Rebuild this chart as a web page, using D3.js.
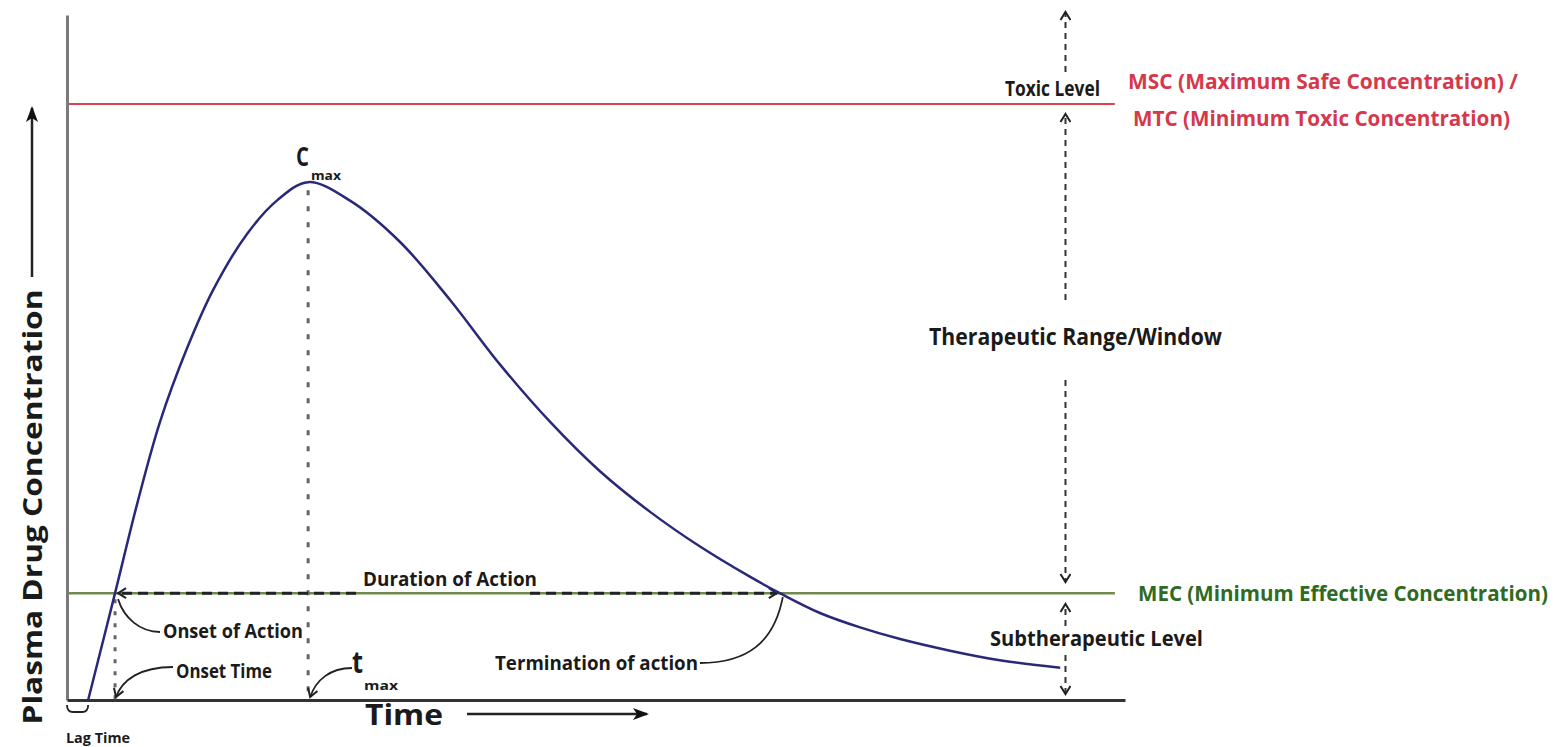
<!DOCTYPE html>
<html>
<head>
<meta charset="utf-8">
<script src="https://cdn.jsdelivr.net/npm/d3@7"></script>
<style>
  body { margin: 0; background: #fff; }
  svg text { font-family: "Open Sans", "Liberation Sans", sans-serif; font-weight: 700; }
</style>
</head>
<body>
<div id="chart"></div>
<script>
// plasma concentration vs time (time in h, concentration in arbitrary units)
const timeHours = [0.48, 1.09, 1.59, 2.11, 2.72, 3.31, 4.08, 4.76, 5.47, 6.42, 7.55, 8.69, 9.82,
  10.96, 12.09, 13.22, 14.36, 15.49, 16.17, 17.08, 17.99, 18.9, 20.03, 21.16, 22.53];
const concentration = [0, 15.6, 28.6, 40.6, 51.3, 59.8, 68.0, 72.9, 75.6, 72.9, 66.9, 58.4, 49.0,
  40.6, 33.4, 27.5, 22.4, 18.0, 15.6, 12.7, 10.6, 8.9, 7.2, 5.8, 4.7];

// reference levels
const mscLevel = 87;   // MSC / MTC
const mecLevel = 15.6; // MEC

// key time points
const lagTime = 0.48;
const onsetTime = 1.09;
const tMax = 5.47;
const cMax = 75.6;
const terminationTime = 16.17;
const windowTime = 22.65;

const W = 1563, H = 747;
const svg = d3.select("#chart").append("svg")
  .attr("width", W)
  .attr("height", H);

const x = d3.scaleLinear().domain([0, 24]).range([67, 1125]);
const y = d3.scaleLinear().domain([0, 100]).range([700, 15]);

// markers
const defs = svg.append("defs");
defs.append("marker")
  .attr("id", "chev")
  .attr("viewBox", "-1 -6 12 12")
  .attr("refX", 9).attr("refY", 0)
  .attr("markerWidth", 12).attr("markerHeight", 12)
  .attr("markerUnits", "userSpaceOnUse")
  .attr("orient", "auto-start-reverse")
  .append("path")
  .attr("d", "M1,-5 L9,0 L1,5")
  .attr("fill", "none")
  .attr("stroke", "#222")
  .attr("stroke-width", 2);

defs.append("marker")
  .attr("id", "tri")
  .attr("viewBox", "0 -7 16 14")
  .attr("refX", 14).attr("refY", 0)
  .attr("markerWidth", 16).attr("markerHeight", 14)
  .attr("markerUnits", "userSpaceOnUse")
  .attr("orient", "auto")
  .append("path")
  .attr("d", "M0,-6 L16,0 L0,6 L4,0 Z")
  .attr("fill", "#111");

// level lines
svg.append("line")
  .attr("x1", x(0)).attr("x2", x(23.77))
  .attr("y1", y(mscLevel)).attr("y2", y(mscLevel))
  .attr("stroke", "#d9444e").attr("stroke-width", 2);

svg.append("line")
  .attr("x1", x(0)).attr("x2", x(23.77))
  .attr("y1", y(mecLevel)).attr("y2", y(mecLevel))
  .attr("stroke", "#6e8a4c").attr("stroke-width", 2.5);

// axes (no ticks, just the lines)
const yAxis = svg.append("g")
  .attr("transform", `translate(${x(0)},0)`)
  .call(d3.axisLeft(y).ticks(0).tickSize(0));
yAxis.select(".domain").attr("stroke", "#7a7a7a").attr("stroke-width", 3);

const xAxis = svg.append("g")
  .attr("transform", `translate(0,${y(0)})`)
  .call(d3.axisBottom(x).ticks(0).tickSize(0));
xAxis.select(".domain").attr("stroke", "#333").attr("stroke-width", 3);

// dotted drop lines at onset and tmax
svg.append("line")
  .attr("x1", x(onsetTime)).attr("x2", x(onsetTime))
  .attr("y1", y(mecLevel) + 6).attr("y2", y(0))
  .attr("stroke", "#666").attr("stroke-width", 3)
  .attr("stroke-dasharray", "4,8");

svg.append("line")
  .attr("x1", x(tMax)).attr("x2", x(tMax))
  .attr("y1", y(cMax) + 8).attr("y2", y(0))
  .attr("stroke", "#666").attr("stroke-width", 3)
  .attr("stroke-dasharray", "5,11");

// duration of action dashed arrow (broken around the label)
svg.append("line")
  .attr("x1", 356).attr("x2", x(onsetTime) + 3)
  .attr("y1", y(mecLevel)).attr("y2", y(mecLevel))
  .attr("stroke", "#222").attr("stroke-width", 3)
  .attr("stroke-dasharray", "10,6")
  .attr("marker-end", "url(#chev)");

svg.append("line")
  .attr("x1", 530).attr("x2", x(terminationTime) - 3)
  .attr("y1", y(mecLevel)).attr("y2", y(mecLevel))
  .attr("stroke", "#222").attr("stroke-width", 3)
  .attr("stroke-dasharray", "10,6")
  .attr("marker-end", "url(#chev)");

// concentration curve
const curveData = timeHours.map((t, i) => ({t, c: concentration[i]}));
const line = d3.line()
  .x(d => x(d.t))
  .y(d => y(d.c))
  .curve(d3.curveCatmullRom.alpha(0.5));

svg.append("path")
  .datum(curveData)
  .attr("fill", "none")
  .attr("stroke", "#2a2878")
  .attr("stroke-width", 2.5)
  .attr("d", line);

// right side dashed range arrows
const wx = x(windowTime);
const rangeArrows = [[72, 12], [300, 114], [380, 582], [626, 604], [655, 694]];
rangeArrows.forEach(([a, b]) => {
  svg.append("line")
    .attr("x1", wx).attr("x2", wx)
    .attr("y1", a).attr("y2", b)
    .attr("stroke", "#333").attr("stroke-width", 2)
    .attr("stroke-dasharray", "6,5")
    .attr("marker-end", "url(#chev)");
});

// thin curved pointers
function pointer(d, arrow) {
  const p = svg.append("path")
    .attr("d", d)
    .attr("fill", "none")
    .attr("stroke", "#222")
    .attr("stroke-width", 1.8);
  if (arrow) p.attr("marker-end", "url(#chev)");
}
const ox = x(onsetTime), my = y(mecLevel);
pointer(`M160,632 C140,632 124,618 ${ox + 3},${my + 6}`, false);
pointer(`M173,667 C140,667 122,680 ${ox + 1},697`, true);
pointer(`M352,668 C330,668 316,680 ${x(tMax) + 2},697`, true);
pointer(`M700,663 C748,663 774,642 ${x(terminationTime) + 3},${my + 4}`, false);

// lag time bracket
const lx0 = x(0), lx1 = x(lagTime);
svg.append("path")
  .attr("d", `M${lx0},705 Q${lx0},712 ${lx0 + 6},712 L${lx1 - 6},712 Q${lx1},712 ${lx1},705`)
  .attr("fill", "none").attr("stroke", "#222").attr("stroke-width", 1.8);

// axis arrows
svg.append("line")
  .attr("x1", 32).attr("x2", 32).attr("y1", 277).attr("y2", 108)
  .attr("stroke", "#222").attr("stroke-width", 2.5)
  .attr("marker-end", "url(#tri)");

svg.append("line")
  .attr("x1", 467).attr("x2", 647).attr("y1", 714).attr("y2", 714)
  .attr("stroke", "#222").attr("stroke-width", 2.5)
  .attr("marker-end", "url(#tri)");

// labels
function label(txt, x0, yb, w, size, color) {
  return svg.append("text")
    .attr("x", x0).attr("y", yb)
    .attr("textLength", w)
    .attr("lengthAdjust", "spacingAndGlyphs")
    .style("font-size", size + "px")
    .attr("fill", color || "#1a1a1a")
    .text(txt);
}

label("Toxic Level", 1005, 96, 95, 22);
label("MSC (Maximum Safe Concentration) /", 1128, 89, 390, 22, "#d6384b");
label("MTC (Minimum Toxic Concentration)", 1133, 126, 377, 22, "#d6384b");
label("Therapeutic Range/Window", 929, 345, 293, 24);
label("MEC (Minimum Effective Concentration)", 1138, 601, 410, 21, "#2f6a22");
label("Subtherapeutic Level", 990, 646, 213, 21);
label("Duration of Action", 363, 586, 174, 19);
label("Onset of Action", 163, 638, 140, 19);
label("Onset Time", 176, 678, 96, 19);
label("Termination of action", 495, 670, 203, 19);
label("Lag Time", 66, 743, 64, 14);
label("Time", 365, 725, 78, 29);
label("C", 296, 166, 13, 26);
label("max", 311, 180, 30, 13);
label("t", 352, 673, 11, 30);
label("max", 364, 690, 34, 13);

svg.append("text")
  .attr("transform", "translate(42,507) rotate(-90)")
  .attr("text-anchor", "middle")
  .attr("textLength", 435)
  .attr("lengthAdjust", "spacingAndGlyphs")
  .style("font-size", "27px")
  .attr("fill", "#1a1a1a")
  .text("Plasma Drug Concentration");
</script>
</body>
</html>
